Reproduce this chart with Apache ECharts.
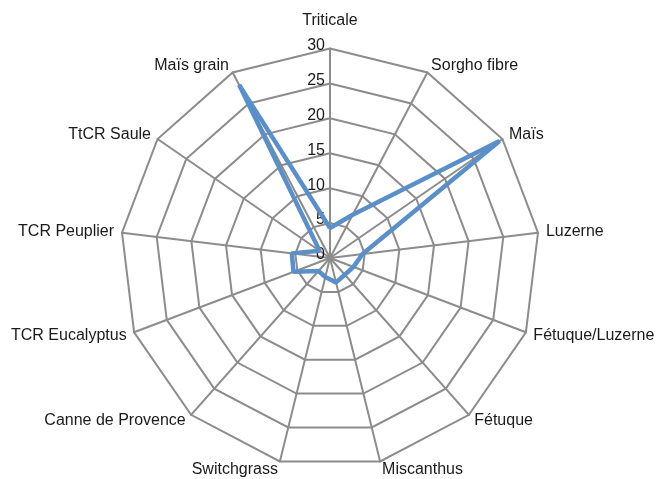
<!DOCTYPE html>
<html>
<head>
<meta charset="utf-8">
<script src="https://cdn.jsdelivr.net/npm/echarts@6/dist/echarts.min.js"></script>
<style>
html,body{margin:0;padding:0;background:#fff;}
#c{width:659px;height:479px;}
</style>
</head>
<body>
<div id="c"></div>
<script>
// Categories in clockwise order starting at the top
var categories = ['Triticale', 'Sorgho fibre', 'Maïs', 'Luzerne', 'Fétuque/Luzerne', 'Fétuque',
  'Miscanthus', 'Switchgrass', 'Canne de Provence', 'TCR Eucalyptus', 'TCR Peuplier', 'TtCR Saule', 'Maïs grain'];
var values = [4.3, 7.0, 29.5, 4.7, 3.6, 3.2, 3.6, 2.8, 2.5, 5.6, 5.5, 1.8, 28.0];
var tickLabels = ['0', '5', '10', '15', '20', '25', '30'];

var tickMax = Number(tickLabels[tickLabels.length - 1]);
var FONT = "'Liberation Sans', Arial, sans-serif";

// ECharts places indicators counter-clockwise; reorder to get a clockwise layout.
var order = [0];
for (var i = categories.length - 1; i >= 1; i--) order.push(i);

var indicators = order.map(function (idx, k) {
  var ind = { name: categories[idx], max: tickMax, min: 0 };
  if (k === 0) {
    ind.nameGap = 20;
    ind.axisLabel = { show: true };
  }
  return ind;
});
var seriesValues = order.map(function (idx) { return values[idx]; });

var chart = echarts.init(document.getElementById('c'), null, { renderer: 'canvas' });
chart.setOption({
  animation: false,
  backgroundColor: '#ffffff',
  radar: {
    center: [330, 258],
    radius: 209.5,
    startAngle: 90,
    shape: 'polygon',
    splitNumber: tickLabels.length - 1,
    indicator: indicators,
    nameGap: 8,
    axisName: {
      color: '#1a1a1a',
      fontFamily: FONT,
      fontSize: 16
    },
    axisLine: { show: true, lineStyle: { color: '#8c8c8c', width: 2 } },
    splitLine: { show: true, lineStyle: { color: '#8c8c8c', width: 2 } },
    splitArea: { show: false },
    axisTick: { show: false },
    axisLabel: {
      show: false,
      color: '#1a1a1a',
      fontFamily: FONT,
      fontSize: 16,
      margin: 5,
      verticalAlign: 'bottom',
      lineHeight: 6,
      formatter: function (v) {
        var s = String(v);
        return tickLabels.indexOf(s) >= 0 ? s : '';
      }
    }
  },
  series: [{
    type: 'radar',
    symbol: 'none',
    lineStyle: { color: '#5a8fc8', width: 4.5, join: 'bevel' },
    itemStyle: { color: '#5a8fc8' },
    data: [{ value: seriesValues, name: 'Série' }]
  }]
});
</script>
</body>
</html>
